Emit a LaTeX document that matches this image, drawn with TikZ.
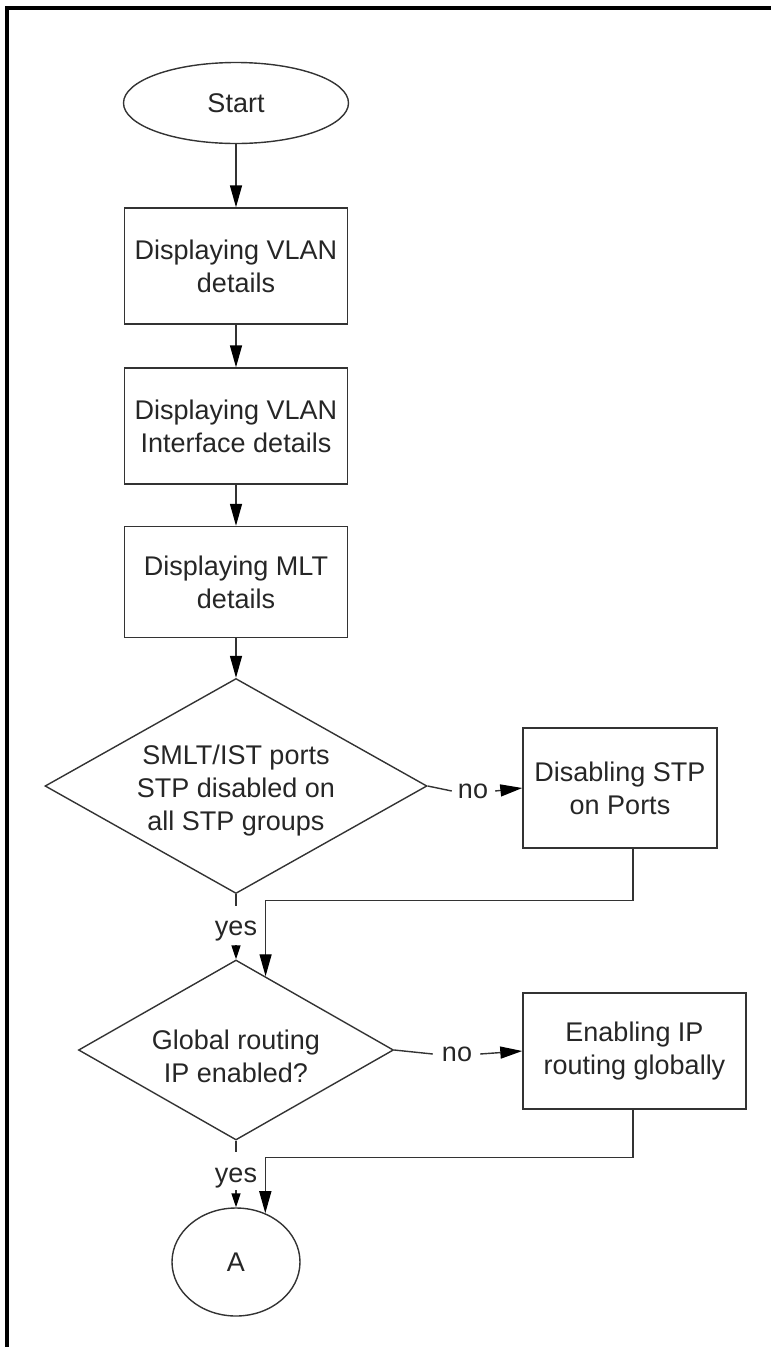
\documentclass[tikz,border=0pt]{standalone}
\usepackage{fontspec}
\setmainfont{Liberation Sans}
\usetikzlibrary{shapes.geometric,arrows.meta,calc}
\begin{document}
\begin{tikzpicture}[x=1pt,y=-1pt,
  line/.style={draw=black!80, line width=1.4pt},
  arr/.style={line, -{Triangle[length=22pt,width=12pt,color=black]}},
  sarr/.style={line, -{Triangle[length=14pt,width=9pt,color=black]}},
  txt/.style={font=\fontsize{27}{33}\selectfont, text=black!85, align=center},
  box/.style={draw=black!80, line width=1.4pt, rectangle, inner sep=0pt, txt},
  dia/.style={draw=black!80, line width=1.4pt, diamond, inner sep=0pt},
  term/.style={draw=black!80, line width=1.4pt, ellipse, inner sep=0pt, txt},
  lbl/.style={font=\fontsize{27}{33}\selectfont, text=black!85, inner sep=0pt}]
\useasboundingbox (0,0) rectangle (771,1347);
\draw[line width=3.5pt] (7,1347) -- (7,8) -- (771,8);

\node[term, minimum width=225pt, minimum height=81pt] (start) at (236,103) {Start};
\node[box, minimum width=223pt, minimum height=116pt] (b1) at (236,266) {Displaying VLAN\\details};
\node[box, minimum width=223pt, minimum height=116pt] (b2) at (236,426) {Displaying VLAN\\Interface details};
\node[box, minimum width=223pt, minimum height=111pt] (b3) at (236,582) {Displaying MLT\\details};
\node[dia, minimum width=382pt, minimum height=215pt] (d1) at (236,786) {};
\node[txt] (d1t) at (236,791) {SMLT/IST ports\\STP disabled on\\all STP groups};
\node[box, minimum width=194pt, minimum height=120pt] (b4) at (620,788) {Disabling STP\\on Ports};
\node[dia, minimum width=315pt, minimum height=180pt] (d2) at (236,1050) {};
\node[txt] (d2t) at (236,1056) {Global routing\\IP enabled?};
\node[box, minimum width=223pt, minimum height=116pt] (b5) at (634.5,1051) {Enabling IP\\routing globally};
\node[term, minimum width=128pt, minimum height=108pt] (a) at (236,1262) {A};

\node[lbl] (no1) at (473,791) {no};
\node[lbl] (no2) at (457,1054) {no};
\node[lbl] (yes1) at (236,931) {yes};
\node[lbl] (yes2) at (236,1178) {yes};

\coordinate (y1a) at (236,906);
\coordinate (y1b) at (236,945);
\coordinate (y2a) at (236,1152);
\coordinate (y2b) at (236,1190);

\draw[arr] (start) -- (b1);
\draw[arr] (b1) -- (b2);
\draw[arr] (b2) -- (b3);
\draw[arr] (b3) -- (d1.north);
\draw[line] (d1.east) -- ([xshift=-6pt]no1.west);
\draw[arr] ([xshift=7pt]no1.east) -- (b4.west);
\draw[line] (d1.south) -- (y1a);
\draw[sarr] (y1b) -- (d2.north);
\draw[arr] ([xshift=13pt]b4.south) -- ++(0,52) -| ($(d2.north)!0.187!(d2.east)$);
\draw[line] (d2.east) -- ([xshift=-9pt]no2.west);
\draw[arr] ([xshift=8pt]no2.east) -- (b5.west);
\draw[line] (d2.south) -- (y2a);
\draw[sarr] (y2b) -- (a.north);
\draw[arr] ([xshift=-1.5pt]b5.south) -- ++(0,48) -| (a.59);
\end{tikzpicture}
\end{document}
